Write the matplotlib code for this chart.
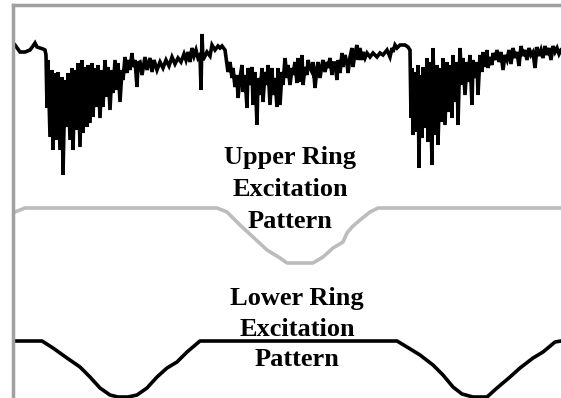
import numpy as np
import matplotlib
matplotlib.use("Agg")
import matplotlib.pyplot as plt

# Measured trace (sample position, deflection; y grows downward like the figure)
trace_x = [15, 20, 25, 30, 33, 35, 37, 40, 43, 45, 46,
           47, 48, 50, 52, 53, 55, 57, 58, 60, 62, 63, 65, 67, 68, 70, 72, 73, 75, 77, 78,
           80, 82, 83, 85, 87, 88, 90, 92, 93, 95, 97, 98, 100, 102, 103, 105, 107, 108,
           110, 112, 113, 115, 117, 118, 120, 122, 123, 125, 127, 128, 130, 132, 133, 135,
           137, 138,
           140, 142, 145, 147, 150, 152, 154, 157, 160, 163, 166, 169, 172, 175, 178, 181,
           184, 186, 188, 190, 192, 194, 196, 198, 200, 201, 202, 203, 205, 207, 210, 212,
           215, 218, 220, 222, 225,
           228, 230, 232, 233, 235, 237, 238, 240, 242, 243, 245, 247, 248, 250, 252, 253,
           255, 257, 258, 260, 262, 263, 265, 267, 268, 270, 272, 273, 275, 277, 278, 280,
           282, 283, 285, 287, 288, 290, 292, 293, 295, 297, 298, 300, 302, 303, 305, 307,
           308, 310, 312, 313, 315, 317, 318, 320, 322, 323, 325, 327, 328, 330, 332, 333,
           335, 337, 338, 340, 342, 343, 345, 347, 348, 350, 352, 353, 355, 357, 358, 360,
           362, 363, 365, 367, 370, 373, 377, 380, 383, 387, 390, 392, 393, 395, 397, 400,
           405, 408, 410,
           411, 412, 413, 415, 417, 418, 419, 420, 422, 423, 425, 427, 428, 430, 432, 433,
           435, 437, 438, 440, 442, 443, 445, 447, 448, 450, 452, 453, 455, 457, 458, 460,
           462, 463, 465, 467, 468, 470, 472, 473, 475, 477, 478, 480, 482, 483, 485, 487,
           488, 490, 492, 493,
           495, 497, 499, 501, 503, 505, 507, 509, 511, 513, 515, 517, 519, 521, 523, 525,
           527, 529, 531, 533, 535, 537, 539, 541, 543, 545, 547, 549, 551, 553, 555, 557,
           559, 561]
trace_y = [45, 52, 52, 50, 46, 43, 47, 48, 49, 50, 55,
           108, 60, 137, 70, 150, 73, 140, 72, 150, 77, 175, 80, 127, 73, 140, 68, 150, 70, 130, 63,
           147, 60, 133, 67, 127, 65, 123, 63, 117, 68, 107, 65, 118, 70, 107, 60, 97, 67,
           110, 70, 93, 60, 90, 63, 102, 70, 80, 57, 73, 60, 70, 53, 67, 60,
           87, 63,
           62, 75, 57, 70, 58, 72, 60, 70, 62, 68, 60, 66, 57, 64, 58, 62,
           54, 60, 52, 62, 48, 56, 50, 58, 55, 90, 34, 60, 56, 52, 56, 45,
           50, 46, 48, 46, 50,
           72, 62, 78, 68, 87, 75, 98, 78, 65, 92, 75, 108, 68, 85, 67, 105,
           72, 125, 78, 95, 68, 102, 72, 85, 65, 105, 68, 95, 78, 107, 68, 105,
           72, 85, 58, 78, 65, 85, 68, 75, 62, 83, 58, 82, 55, 85, 67, 75,
           60, 68, 72, 62, 88, 68, 62, 78, 65, 60, 72, 62, 68, 58, 75, 63,
           63, 80, 60, 73, 53, 67, 55, 63, 73, 57, 48, 67, 53, 45, 60, 48,
           60, 52, 58, 53, 57, 53, 57, 53, 55, 50, 57, 48, 52, 45, 48, 45,
           45, 47, 50,
           118, 68, 135, 72, 132, 65, 168, 75, 138, 67, 128, 58, 142, 62, 165, 48,
           135, 65, 145, 68, 122, 58, 125, 62, 112, 65, 118, 55, 102, 62, 125, 48,
           85, 58, 95, 62, 82, 55, 105, 60, 78, 62, 95, 55, 72, 52, 67, 50,
           68, 57, 65, 53,
           60, 50, 62, 52, 70, 55, 60, 50, 64, 48, 58, 52, 66, 46, 56, 50,
           60, 48, 55, 52, 68, 47, 56, 50, 58, 46, 55, 48, 60, 46, 52, 48,
           54, 50]

# Upper ring excitation (grey)
upper_x = [15, 25, 217, 227, 240, 253, 267, 280, 287, 313, 323, 333, 343, 347, 352, 360, 370, 378, 561]
upper_y = [212, 208, 208, 212, 225, 237, 250, 258, 263, 263, 257, 248, 242, 233, 227, 220, 212, 208, 208]

# Lower ring excitation (black)
lower_x = [15, 42, 53, 67, 80, 90, 100, 110, 118, 128, 137, 147, 157, 167, 177, 187, 200,
           397, 407, 420, 433, 443, 453, 462, 473, 487, 497, 510, 520, 533, 543, 555, 561]
lower_y = [341, 341, 348, 358, 367, 377, 388, 395, 397, 397, 395, 388, 377, 368, 362, 352, 341,
           341, 347, 355, 365, 375, 387, 394, 397, 397, 388, 377, 368, 358, 352, 342, 341]

upper_label = ["Upper Ring", "Excitation", "Pattern"]
lower_label = ["Lower Ring", "Excitation", "Pattern"]

W, H = 561, 398
fig = plt.figure(figsize=(W / 100, H / 100), dpi=100)
ax = fig.add_axes([13 / W, 0, 1 - 13 / W, 1 - 5 / H])
ax.set_xlim(13, 561)
ax.set_ylim(398, 5)

ax.plot(trace_x, trace_y, color="black", lw=2.6, solid_joinstyle="miter")
ax.plot(upper_x, upper_y, color="#bcbcbc", lw=2.6)
ax.plot(lower_x, lower_y, color="black", lw=2.6)

font = dict(family="Liberation Serif", weight="bold", size=19, ha="center", va="baseline")
for text, yb in zip(upper_label, [164, 196, 228]):
    ax.text(290, yb, text, **font)
for text, yb in zip(lower_label, [305, 336, 366]):
    ax.text(297, yb, text, **font)

for side in ["right", "bottom"]:
    ax.spines[side].set_visible(False)
for side in ["left", "top"]:
    ax.spines[side].set_color("#a0a0a0")
    ax.spines[side].set_linewidth(2.5)
ax.set_xticks([])
ax.set_yticks([])

fig.savefig("out.png", dpi=100)
